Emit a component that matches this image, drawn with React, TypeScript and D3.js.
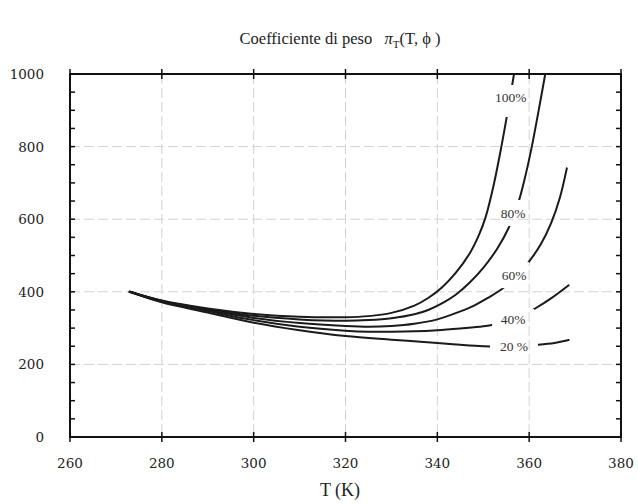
import React from "react";
import * as d3 from "d3";

// ---- data ----
const xTicks = [260, 280, 300, 320, 340, 360, 380];
const yTicks = [0, 200, 400, 600, 800, 1000];
const yMinor = d3.range(0, 1001, 50);
const gridX = [280, 300, 320, 340, 360];
const gridY = [200, 400, 600, 800];

const T100 = [273, 280, 290, 300, 310, 320, 325, 330, 335, 338, 341, 344, 347, 349, 350.5, 352.2, 353.8, 355.3, 356.7];
const V100 = [400, 376, 354, 339, 331, 330, 333, 342, 362, 383, 412, 452, 505, 555, 605, 690, 790, 895, 1000];

const T80 = [273, 280, 290, 300, 310, 320, 325, 330, 335, 338, 341, 344, 347, 350, 353, 355.5, 357.5, 359, 360.5, 362, 363.5];
const V80 = [400, 375, 352, 334, 324, 320, 322, 327, 338, 350, 368, 392, 425, 466, 518, 575, 640, 710, 795, 895, 1000];

const T60 = [273, 280, 290, 300, 310, 320, 325, 330, 335, 340, 345, 348, 351, 354, 357, 360, 362.5, 364.8, 366.7, 368.2];
const V60 = [400, 374, 350, 328, 314, 306, 304, 306, 312, 324, 346, 362, 383, 407, 440, 484, 530, 590, 660, 740];

const T40 = [273, 280, 290, 300, 310, 320, 325, 330, 335, 340, 345, 350, 354, 358, 361.3, 365, 368.6];
const V40 = [400, 373, 347, 322, 304, 293, 290, 290, 291, 294, 299, 305, 314, 332, 354, 384, 418];

const T20 = [273, 280, 290, 300, 310, 320, 330, 340, 345, 350, 354, 358, 362, 365.5, 368.6];
const V20 = [400, 371, 343, 315, 294, 278, 268, 259, 254, 250, 249, 250.5, 254, 259, 267];

const seriesNames = ["100%", "80%", "60%", "40%", "20 %"];
const seriesT = [T100, T80, T60, T40, T20];
const seriesV = [V100, V80, V60, V40, V20];
// label anchor in data units
const labelT = [356.0, 356.5, 356.7, 356.5, 356.7];
const labelV = [934, 617, 446, 325, 248];
// gap (in px) cut out of the curve around each label: [halfW, halfH, dy]
const labelGap = [
  [17, 16, 3],
  [16, 13, 0],
  [15, 13, 0],
  [21, 10, 0],
  [24, 8, 0],
];

export default function App() {
  const W = 638, H = 504;
  const left = 70, right = 621, top = 74, bottom = 437;
  const x = d3.scaleLinear().domain([260, 380]).range([left, right]);
  const y = d3.scaleLinear().domain([0, 1000]).range([bottom, top]);

  const line = d3
    .line<[number, number]>()
    .x((d) => x(d[0]))
    .y((d) => y(d[1]))
    .curve(d3.curveCatmullRom.alpha(0.5));

  const serif = "'Liberation Serif', 'Times New Roman', serif";
  const tickFont = "'DejaVu Serif', serif";

  return (
    <svg
      width={W}
      height={H}
      viewBox={`0 0 ${W} ${H}`}
      style={{ position: "absolute", left: 0, top: 0, background: "#fff" }}
      fontFamily={serif}
    >
      <defs>
        <clipPath id="plotClip">
          <rect x={left} y={top} width={right - left} height={bottom - top} />
        </clipPath>
        <mask id="labelMask">
          <rect x={0} y={0} width={W} height={H} fill="white" />
          {seriesNames.map((n, i) => (
            <rect
              key={n}
              x={x(labelT[i]) - labelGap[i][0]}
              y={y(labelV[i]) - labelGap[i][1] + labelGap[i][2]}
              width={labelGap[i][0] * 2}
              height={labelGap[i][1] * 2}
              fill="black"
            />
          ))}
        </mask>
      </defs>
      <rect x={0} y={0} width={W} height={H} fill="#fff" />

      {/* title */}
      <text x={340} y={44} textAnchor="middle" fontSize={16.5} fill="#222" style={{ whiteSpace: "pre" }}>
        {"Coefficiente di peso   "}
        <tspan fontStyle="italic">π</tspan>
        <tspan dy={4} fontSize={11}>T</tspan>
        <tspan dy={-4}>{"(T, ϕ )"}</tspan>
      </text>

      {/* grid */}
      {gridX.map((t) => (
        <line key={"gx" + t} x1={x(t)} x2={x(t)} y1={top} y2={bottom} stroke="#d2d2d2" strokeWidth={1} strokeDasharray="10,4" />
      ))}
      {gridY.map((v) => (
        <line key={"gy" + v} x1={left} x2={right} y1={y(v)} y2={y(v)} stroke="#d2d2d2" strokeWidth={1} strokeDasharray="10,4" />
      ))}

      {/* curves */}
      <g clipPath="url(#plotClip)">
        <g mask="url(#labelMask)">
          {seriesNames.map((n, i) => (
            <path
              key={n}
              d={line(seriesT[i].map((t, j) => [t, seriesV[i][j]] as [number, number])) || ""}
              fill="none"
              stroke="#1a1a1a"
              strokeWidth={2}
              strokeLinecap="round"
            />
          ))}
        </g>
      </g>

      {/* series labels */}
      {seriesNames.map((n, i) => (
        <text
          key={"l" + n}
          x={x(labelT[i])}
          y={y(labelV[i])}
          textAnchor="middle"
          dominantBaseline="central"
          fontSize={13.5}
          fill="#333"
          style={{ whiteSpace: "pre" }}
        >
          {n}
        </text>
      ))}

      {/* frame */}
      <rect x={left} y={top} width={right - left} height={bottom - top} fill="none" stroke="#111" strokeWidth={2} />

      {/* y minor ticks (inward on both sides) */}
      {yMinor.map((v) => (
        <g key={"ym" + v}>
          <line x1={left} x2={left + 5} y1={y(v)} y2={y(v)} stroke="#111" strokeWidth={1.5} />
          <line x1={right - 5} x2={right} y1={y(v)} y2={y(v)} stroke="#111" strokeWidth={1.5} />
        </g>
      ))}

      {/* x ticks (crossing top and bottom) */}
      {xTicks.map((t) => (
        <g key={"xt" + t}>
          <line x1={x(t)} x2={x(t)} y1={top - 5} y2={top + 5} stroke="#111" strokeWidth={1.5} />
          <line x1={x(t)} x2={x(t)} y1={bottom - 5} y2={bottom + 5} stroke="#111" strokeWidth={1.5} />
          <text x={x(t)} y={463} textAnchor="middle" dominantBaseline="central" fontSize={13.5} fontFamily={tickFont} fill="#222">
            {t}
          </text>
        </g>
      ))}

      {/* y tick labels */}
      {yTicks.map((v) => (
        <text key={"yt" + v} x={44} y={y(v)} textAnchor="end" dominantBaseline="central" fontSize={13.5} fontFamily={tickFont} fill="#222">
          {v}
        </text>
      ))}

      {/* axis title */}
      <text x={340} y={490} textAnchor="middle" dominantBaseline="central" fontSize={18} fill="#222">
        T (K)
      </text>
    </svg>
  );
}
